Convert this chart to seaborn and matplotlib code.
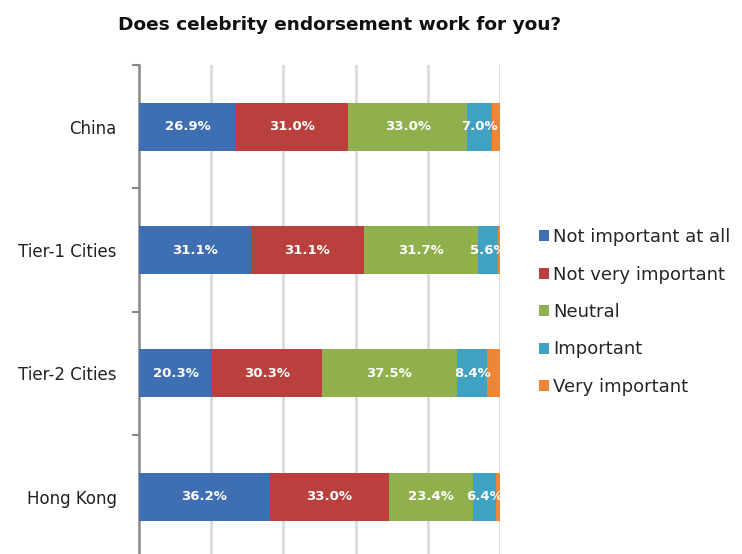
import matplotlib
matplotlib.use("Agg")
import matplotlib.pyplot as plt
import seaborn as sns
import numpy as np
import pandas as pd
from matplotlib.patches import Patch

regions = ["China", "Tier-1 Cities", "Tier-2 Cities", "Hong Kong"]
series = ["Not important at all", "Not very important", "Neutral", "Important", "Very important"]
not_important_at_all = [26.9, 31.1, 20.3, 36.2]
not_very_important = [31.0, 31.1, 30.3, 33.0]
neutral = [33.0, 31.7, 37.5, 23.4]
important = [7.0, 5.6, 8.4, 6.4]
very_important = [2.1, 0.5, 3.5, 1.0]
colors = ["#3F6FB3", "#BA403D", "#8FB04D", "#3FA2C2", "#EE8638"]

values = [not_important_at_all, not_very_important, neutral, important, very_important]

sns.set_theme(style="white")
plt.rcParams["font.family"] = ["DejaVu Sans"]

fig = plt.figure(figsize=(7.42, 5.54), dpi=100)
ax = fig.add_axes([139 / 742, 1 - 558.5 / 554, (500 - 139) / 742, 493.5 / 554])

data = np.array(values)
cum = np.cumsum(data, axis=0)

# draw from the full stack down so earlier series sit on top
for i in range(len(series) - 1, -1, -1):
    df = pd.DataFrame({"region": regions, "value": cum[i]})
    sns.barplot(data=df, x="value", y="region", orient="h", color=colors[i],
                width=0.39, linewidth=0, edgecolor="none", saturation=1,
                ax=ax, label=series[i], zorder=3)

# labels
for i in range(4):
    for j in range(len(regions)):
        v = data[i][j]
        start = cum[i][j] - v
        ax.text(start + v / 2, j, f"{v:.1f}%", ha="center", va="center",
                color="white", fontsize=9.5, fontweight="bold", zorder=5)

ax.set_xlim(0, 100)
ax.set_ylim(3.5, -0.5)
ax.set_xlabel("")
ax.set_ylabel("")
ax.set_xticks([20, 40, 60, 80, 100])
ax.tick_params(axis="x", length=0, labelbottom=False)
ax.grid(axis="x", color="#dadada", linewidth=2, zorder=0)
ax.set_axisbelow(True)

ax.set_yticks(range(len(regions)))
ax.set_yticklabels(regions, fontsize=12, color="#222222")
ax.tick_params(axis="y", which="major", length=0, pad=16)
ax.set_yticks([-0.5, 0.5, 1.5, 2.5, 3.5], minor=True)
ax.tick_params(axis="y", which="minor", length=5, width=1.5, color="#888888", direction="out", left=True)

for s in ["top", "right", "bottom"]:
    ax.spines[s].set_visible(False)
ax.spines["left"].set_color("#888888")
ax.spines["left"].set_linewidth(1.8)

if ax.get_legend() is not None:
    ax.get_legend().remove()

handles = [Patch(facecolor=c, edgecolor="none") for c in colors]
fig.legend(handles, series, loc="center left", bbox_to_anchor=(539 / 742, 1 - 312 / 554),
           frameon=False, fontsize=13, handlelength=0.55, handleheight=0.55,
           handletextpad=0.25, labelspacing=1.08, borderaxespad=0, borderpad=0)

fig.text(340 / 742, 1 - 25 / 554, "Does celebrity endorsement work for you?",
         ha="center", va="center", fontsize=13.3, fontweight="bold", color="#111111")

fig.savefig("out.png", dpi=100)
